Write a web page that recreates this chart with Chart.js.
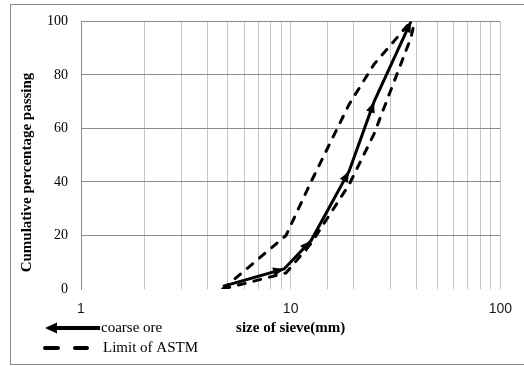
<!DOCTYPE html>
<html><head><meta charset="utf-8">
<script src="https://cdn.jsdelivr.net/npm/chart.js@4/dist/chart.umd.min.js"></script>
<style>
html,body{margin:0;padding:0;background:#fff;overflow:hidden}
#wrap{position:relative;width:524px;height:366px;overflow:hidden}
#frame{position:absolute;left:10px;top:4px;width:600px;height:361px;border:1px solid #8a8a8a;box-sizing:border-box}
canvas{position:absolute;left:0;top:0}
</style></head><body>
<div id="wrap"><div id="frame"></div><canvas id="c" width="524" height="366"></canvas></div>
<script>
const coarseSieve = [4.75, 9.3, 12.5, 19, 25, 37.5];
const coarsePassing = [1, 7.5, 18, 44, 70, 100];
const upperSieve = [4.75, 9.5, 12.5, 19, 25, 37.5];
const upperPassing = [0, 20, 40, 69, 84, 100];
const lowerSieve = [4.75, 9.5, 12.5, 19, 25, 37.5, 39];
const lowerPassing = [0, 6, 17, 39, 58, 94, 100];
const xTickLabels = [1, 10, 100];
const yTickStep = 20;
const seriesNames = ['coarse ore', 'Limit of ASTM'];
const xTitle = 'size of sieve(mm)';
const yTitle = 'Cumulative percentage passing';

const toPts = (xs, ys) => xs.map((x, i) => ({x: x, y: ys[i]}));

const arrowPlugin = {
  id: 'arrows',
  afterDatasetsDraw(chart) {
    const ctx = chart.ctx;
    const meta = chart.getDatasetMeta(0);
    const pts = meta.data;
    ctx.save();
    ctx.fillStyle = '#000';
    for (let i = 1; i < pts.length; i++) {
      const a = pts[i - 1], b = pts[i];
      const ang = Math.atan2(b.y - a.y, b.x - a.x);
      const L = 11, W = 4.5;
      ctx.beginPath();
      ctx.moveTo(b.x, b.y);
      ctx.lineTo(b.x - L * Math.cos(ang) + W * Math.sin(ang), b.y - L * Math.sin(ang) - W * Math.cos(ang));
      ctx.lineTo(b.x - L * Math.cos(ang) - W * Math.sin(ang), b.y - L * Math.sin(ang) + W * Math.cos(ang));
      ctx.closePath();
      ctx.fill();
    }
    ctx.restore();
  },
  afterDraw(chart) {
    const ctx = chart.ctx;
    ctx.save();
    // y axis title
    ctx.translate(27, 172.5);
    ctx.rotate(-Math.PI / 2);
    ctx.font = 'bold 15px "Liberation Serif"';
    ctx.fillStyle = '#000';
    ctx.textAlign = 'center';
    ctx.textBaseline = 'middle';
    ctx.fillText(yTitle, 0, 0);
    ctx.restore();
    // legend
    ctx.save();
    ctx.strokeStyle = '#000';
    ctx.fillStyle = '#000';
    ctx.lineWidth = 4;
    ctx.beginPath();
    ctx.moveTo(54, 328); ctx.lineTo(100, 328); ctx.stroke();
    ctx.beginPath();
    ctx.moveTo(45, 328); ctx.lineTo(57, 322.5); ctx.lineTo(57, 333.5); ctx.closePath(); ctx.fill();
    ctx.lineCap = 'round';
    ctx.beginPath();
    ctx.moveTo(45, 348); ctx.lineTo(58, 348);
    ctx.moveTo(75, 348); ctx.lineTo(87, 348);
    ctx.stroke();
    ctx.font = '15px "Liberation Serif"';
    ctx.textAlign = 'left';
    ctx.textBaseline = 'middle';
    ctx.fillText(seriesNames[0], 101, 328);
    ctx.fillText(seriesNames[1], 103, 348);
    ctx.restore();
  }
};

new Chart(document.getElementById('c'), {
  type: 'line',
  data: {
    datasets: [
      { label: seriesNames[0], data: toPts(coarseSieve, coarsePassing), borderColor: '#000', borderWidth: 3, pointRadius: 0, tension: 0, fill: false },
      { label: seriesNames[1], data: toPts(upperSieve, upperPassing), borderColor: '#000', borderWidth: 3, borderDash: [7, 9], borderCapStyle: 'round', pointRadius: 0, tension: 0, fill: false },
      { label: seriesNames[1], data: toPts(lowerSieve, lowerPassing), borderColor: '#000', borderWidth: 3, borderDash: [7, 9], borderCapStyle: 'round', pointRadius: 0, tension: 0, fill: false }
    ]
  },
  options: {
    responsive: false,
    devicePixelRatio: 1,
    animation: false,
    layout: { padding: { left: 0, right: 18, top: 17, bottom: 0 } },
    plugins: { legend: { display: false }, tooltip: { enabled: false } },
    scales: {
      x: {
        type: 'logarithmic',
        min: 1, max: 100,
        grid: { color: '#c4c4c4', lineWidth: 1, drawTicks: false },
        border: { display: false },
        ticks: {
          autoSkip: false, maxRotation: 0, padding: 12,
          color: '#1a1a1a',
          font: { family: '"Liberation Sans"', size: 14 },
          callback: (v) => xTickLabels.includes(v) ? String(v) : ''
        },
        title: { display: true, text: xTitle, color: '#000', font: { family: '"Liberation Serif"', size: 15, weight: 'bold' }, padding: { top: 29, bottom: 29 } },
        afterFit: (s) => { s.height = 77; }
      },
      y: {
        min: 0, max: 100,
        grid: { color: (c) => c.tick && c.tick.value === 0 ? 'rgba(0,0,0,0)' : '#8c8c8c', lineWidth: 1, drawTicks: false },
        border: { display: true, color: '#8c8c8c' },
        ticks: { stepSize: yTickStep, padding: 13, color: '#000', font: { family: '"Liberation Serif"', size: 14 } },
        afterFit: (s) => { s.width = 81; }
      }
    }
  },
  plugins: [arrowPlugin]
});
</script>
</body></html>
